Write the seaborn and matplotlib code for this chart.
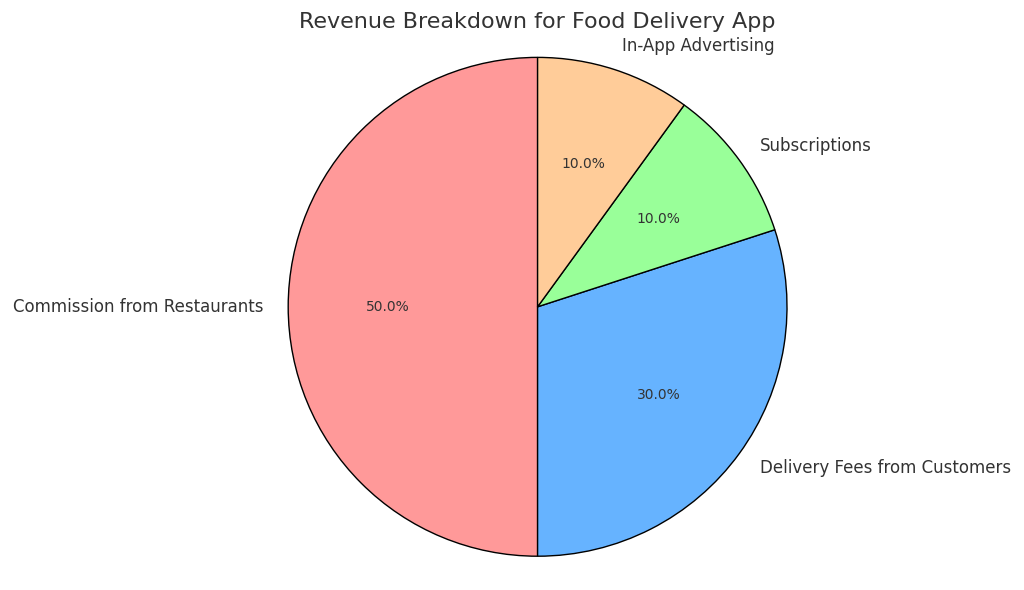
import matplotlib
matplotlib.use("Agg")
import matplotlib.pyplot as plt
import seaborn as sns

sns.set_theme(style="white")
plt.rcParams['font.family'] = ['DejaVu Sans']
plt.rcParams['text.color'] = '#333333'

# revenue shares
sources = ['Commission from Restaurants', 'Delivery Fees from Customers', 'Subscriptions', 'In-App Advertising']
shares = [50, 30, 10, 10]
colors = ['#ff9999', '#66b3ff', '#99ff99', '#ffcc99']

fig, ax = plt.subplots(figsize=(10.24, 5.9), dpi=100)
wedges, texts, autotexts = ax.pie(shares, labels=sources, colors=colors, autopct='%1.1f%%',
                                  startangle=90, wedgeprops={'edgecolor': 'black', 'linewidth': 1},
                                  textprops={'fontsize': 12, 'color': '#333333'})
for t in autotexts:
    t.set_fontsize(10)
ax.axis('equal')
ax.set_title('Revenue Breakdown for Food Delivery App', fontsize=16, color='#333333', pad=3)
plt.subplots_adjust(left=0.0, right=1.05, top=0.945, bottom=0.015)
plt.savefig('out.png')
